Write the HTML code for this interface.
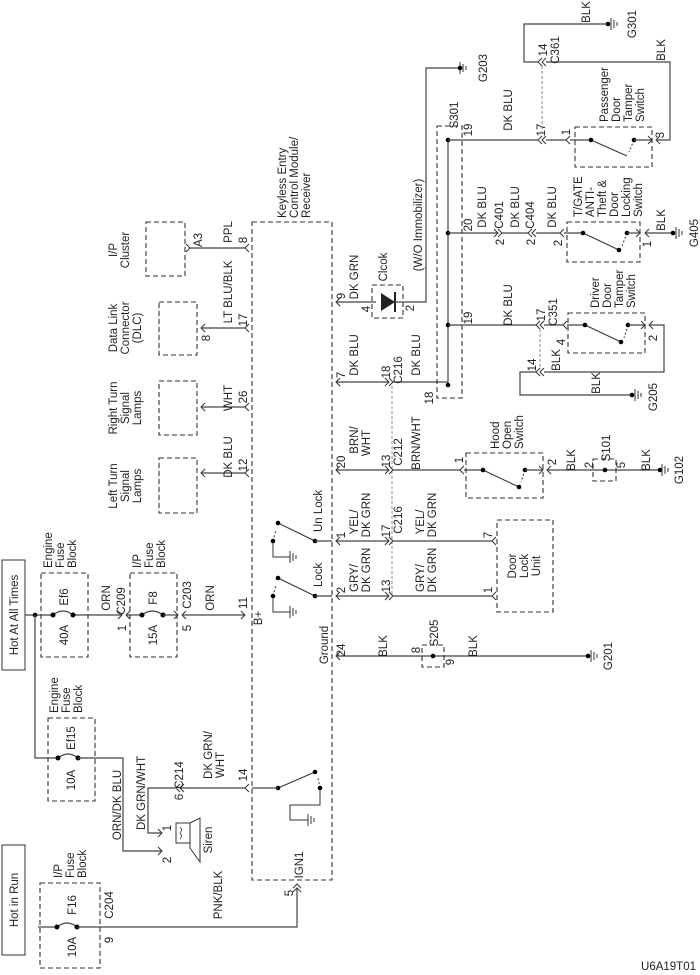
<!DOCTYPE html>
<html><head><meta charset="utf-8"><style>
html,body{margin:0;padding:0;background:#fff;}
svg{display:block;}
text{font-family:"Liberation Sans",sans-serif;font-size:11.5px;fill:#222;}
.w{stroke:#444;stroke-width:1.2;fill:none;}
.d{stroke:#333;stroke-width:1.1;fill:none;stroke-dasharray:5,3;}
.dt{stroke:#888;stroke-width:1;fill:none;stroke-dasharray:3,2;}
.c{stroke:#333;stroke-width:1;fill:none;}
</style></head><body>
<svg width="700" height="975" viewBox="0 0 700 975" xmlns="http://www.w3.org/2000/svg">
<defs>
<g id="gnd"><line x1="0" y1="-6" x2="0" y2="6" class="c"/><line x1="3" y1="-4" x2="3" y2="4" class="c"/><line x1="6" y1="-2" x2="6" y2="2" class="c"/></g>
</defs>
<rect x="2" y="560" width="23" height="110" fill="none" stroke="#333"/>
<text transform="translate(18,615) rotate(-90)" text-anchor="middle" font-size="12">Hot At All Times</text>
<rect x="2" y="845" width="23" height="110" fill="none" stroke="#333"/>
<text transform="translate(18,900) rotate(-90)" text-anchor="middle" font-size="12">Hot in Run</text>

<rect x="41" y="573" width="47" height="84" class="d"/>
<text transform="translate(52,568) rotate(-90)">Engine</text>
<text transform="translate(64,568) rotate(-90)">Fuse</text>
<text transform="translate(76,568) rotate(-90)">Block</text>
<text transform="translate(68,597) rotate(-90)" text-anchor="middle">Ef6</text>
<text transform="translate(68,635) rotate(-90)" text-anchor="middle">40A</text>
<rect x="130" y="573" width="47" height="84" class="d"/>
<text transform="translate(141,568) rotate(-90)">I/P</text>
<text transform="translate(153,568) rotate(-90)">Fuse</text>
<text transform="translate(165,568) rotate(-90)">Block</text>
<text transform="translate(157,598) rotate(-90)" text-anchor="middle">F8</text>
<text transform="translate(157,635) rotate(-90)" text-anchor="middle">15A</text>
<rect x="48" y="718" width="47" height="83" class="d"/>
<text transform="translate(58,713) rotate(-90)">Engine</text>
<text transform="translate(70,713) rotate(-90)">Fuse</text>
<text transform="translate(82,713) rotate(-90)">Block</text>
<text transform="translate(75,738) rotate(-90)" text-anchor="middle">Ef15</text>
<text transform="translate(75,780) rotate(-90)" text-anchor="middle">10A</text>
<rect x="40" y="883" width="60" height="85" class="d"/>
<text transform="translate(62,878) rotate(-90)">I/P</text>
<text transform="translate(74,878) rotate(-90)">Fuse</text>
<text transform="translate(86,878) rotate(-90)">Block</text>
<text transform="translate(76,905) rotate(-90)" text-anchor="middle">F16</text>
<text transform="translate(76,947) rotate(-90)" text-anchor="middle">10A</text>

<polyline class="w" points="25,615 53,615"/>
<path class="w" d="M53,615 q10,-8 20,0"/>
<line class="w" x1="73" y1="615" x2="122" y2="615"/>
<circle cx="35" cy="615" r="2.3"/><circle cx="53" cy="615" r="2.5"/><circle cx="73" cy="615" r="2.5"/>
<polyline class="c" points="118,611 122,615 118,619"/><polyline class="c" points="130,611 126,615 130,619"/>
<line class="w" x1="126" y1="615" x2="142" y2="615"/>
<path class="w" d="M142,615 q10,-8 21,0"/>
<circle cx="142" cy="615" r="2.5"/><circle cx="163" cy="615" r="2.5"/>
<line class="w" x1="163" y1="615" x2="177" y2="615"/>
<polyline class="c" points="174,611 178,615 174,619"/><polyline class="c" points="186,611 182,615 186,619"/>
<line class="w" x1="182" y1="615" x2="245" y2="615"/>
<polyline class="c" points="241,611 245,615 241,619"/>
<text transform="translate(110,598) rotate(-90)" text-anchor="middle">ORN</text>
<text transform="translate(125,601) rotate(-90)" text-anchor="middle">C209</text>
<text transform="translate(126,628) rotate(-90)" text-anchor="middle">1</text>
<text transform="translate(191,595) rotate(-90)" text-anchor="middle">C203</text>
<text transform="translate(191,628) rotate(-90)" text-anchor="middle">5</text>
<text transform="translate(214,598) rotate(-90)" text-anchor="middle">ORN</text>
<text transform="translate(247,603) rotate(-90)" text-anchor="middle">11</text>
<text transform="translate(262,618) rotate(-90)" text-anchor="middle">B+</text>

<polyline class="w" points="35,615 35,758 58,758"/>
<path class="w" d="M58,758 q10,-8 20,0"/>
<circle cx="58" cy="758" r="2.5"/><circle cx="78" cy="758" r="2.5"/>
<polyline class="w" points="78,758 123,758 123,851 162,851"/>
<polyline class="c" points="158,847 162,851 158,855"/>
<text transform="translate(121,805) rotate(-90)" text-anchor="middle">ORN/DK BLU</text>
<text transform="translate(145,830) rotate(-90)">DK GRN/WHT</text>
<text transform="translate(171,860) rotate(-90)" text-anchor="middle">2</text>
<text transform="translate(171,828) rotate(-90)" text-anchor="middle">1</text>
<polyline class="w" points="245,788 180,788"/>
<polyline class="c" points="249,784 245,788 249,792"/>
<polyline class="c" points="184,784 180,788 184,792"/><polyline class="c" points="180,784 176,788 180,792"/>
<polyline class="w" points="176,788 148,788 148,833 162,833"/>
<polyline class="c" points="158,829 162,833 158,837"/>
<rect x="176" y="823" width="14" height="20" fill="none" stroke="#333"/>
<polygon points="190,823 200,818 200,862 190,848" fill="none" stroke="#333"/>
<path d="M180,827 q3,3 0,6 q3,3 0,6" fill="none" stroke="#333" stroke-width="0.8"/>
<text transform="translate(212,840) rotate(-90)" text-anchor="middle">Siren</text>
<text transform="translate(183,775) rotate(-90)" text-anchor="middle">C214</text>
<text transform="translate(183,797) rotate(-90)" text-anchor="middle">6</text>
<text transform="translate(212,755) rotate(-90)" text-anchor="middle">DK GRN/</text>
<text transform="translate(224,765) rotate(-90)" text-anchor="middle">WHT</text>
<text transform="translate(247,775) rotate(-90)" text-anchor="middle">14</text>

<line class="w" x1="38" y1="927" x2="57" y2="927"/>
<path class="w" d="M57,927 q10,-8 20,0"/>
<circle cx="57" cy="927" r="2.5"/><circle cx="77" cy="927" r="2.5"/>
<polyline class="w" points="77,927 297,927 297,888"/>
<polyline class="c" points="293,892 297,888 301,892"/><polyline class="c" points="293,888 297,884 301,888"/>
<text transform="translate(113,905) rotate(-90)" text-anchor="middle">C204</text>
<text transform="translate(113,940) rotate(-90)" text-anchor="middle">9</text>
<text transform="translate(222,895) rotate(-90)" text-anchor="middle">PNK/BLK</text>
<text transform="translate(293,893) rotate(-90)" text-anchor="middle">5</text>
<text transform="translate(303,865) rotate(-90)" text-anchor="middle">IGN1</text>

<rect x="252" y="222" width="80" height="658" class="d"/>
<text transform="translate(286,218) rotate(-90)">Keyless Entry</text>
<text transform="translate(298,218) rotate(-90)">Control Module/</text>
<text transform="translate(310,218) rotate(-90)">Receiver</text>

<rect x="146" y="222" width="39" height="54" class="d"/>
<text transform="translate(117,250) rotate(-90)" text-anchor="middle">I/P</text>
<text transform="translate(129,250) rotate(-90)" text-anchor="middle">Cluster</text>
<polyline class="w" points="190,248 245,248"/>
<polyline class="c" points="186,244 190,248 186,252"/><polyline class="c" points="249,244 245,248 249,252"/>
<text transform="translate(202,240) rotate(-90)" text-anchor="middle">A3</text>
<text transform="translate(232,232) rotate(-90)" text-anchor="middle">PPL</text>
<text transform="translate(247,240) rotate(-90)" text-anchor="middle">8</text>

<rect x="159" y="302" width="38" height="53" class="d"/>
<text transform="translate(117,328) rotate(-90)" text-anchor="middle">Data Link</text>
<text transform="translate(129,328) rotate(-90)" text-anchor="middle">Connector</text>
<text transform="translate(141,328) rotate(-90)" text-anchor="middle">(DLC)</text>
<polyline class="w" points="201,328 245,328"/>
<polyline class="c" points="205,324 201,328 205,332"/><polyline class="c" points="249,324 245,328 249,332"/>
<text transform="translate(210,338) rotate(-90)" text-anchor="middle">8</text>
<text transform="translate(232,292) rotate(-90)" text-anchor="middle">LT BLU/BLK</text>
<text transform="translate(247,320) rotate(-90)" text-anchor="middle">17</text>

<rect x="159" y="381" width="38" height="54" class="d"/>
<text transform="translate(117,408) rotate(-90)" text-anchor="middle">Right Turn</text>
<text transform="translate(129,408) rotate(-90)" text-anchor="middle">Signal</text>
<text transform="translate(141,408) rotate(-90)" text-anchor="middle">Lamps</text>
<polyline class="w" points="201,407 245,407"/>
<polyline class="c" points="205,403 201,407 205,411"/><polyline class="c" points="249,403 245,407 249,411"/>
<text transform="translate(232,398) rotate(-90)" text-anchor="middle">WHT</text>
<text transform="translate(247,397) rotate(-90)" text-anchor="middle">26</text>

<rect x="159" y="458" width="38" height="55" class="d"/>
<text transform="translate(117,486) rotate(-90)" text-anchor="middle">Left Turn</text>
<text transform="translate(129,486) rotate(-90)" text-anchor="middle">Signal</text>
<text transform="translate(141,486) rotate(-90)" text-anchor="middle">Lamps</text>
<polyline class="w" points="201,473 245,473"/>
<polyline class="c" points="205,469 201,473 205,477"/><polyline class="c" points="249,469 245,473 249,477"/>
<text transform="translate(232,457) rotate(-90)" text-anchor="middle">DK BLU</text>
<text transform="translate(247,465) rotate(-90)" text-anchor="middle">12</text>

<g class="c">
<line x1="315" y1="541" x2="278" y2="523"/><line x1="273" y1="541" x2="276" y2="530" stroke-dasharray="2,2"/>
<polyline points="273,541 273,557 290,557"/>
<line x1="315" y1="596" x2="278" y2="578"/><line x1="273" y1="596" x2="276" y2="585" stroke-dasharray="2,2"/>
<polyline points="273,596 273,612 290,612"/>
<line x1="278" y1="788" x2="315" y2="772"/><line x1="320" y1="788" x2="318" y2="778" stroke-dasharray="2,2"/>
<polyline points="320,788 320,805 290,805 290,820 308,820"/>
</g>
<use href="#gnd" x="290" y="557"/><use href="#gnd" x="290" y="612"/><use href="#gnd" x="308" y="820"/>
<circle cx="315" cy="541" r="2.3"/><circle cx="278" cy="523" r="2.3"/><circle cx="273" cy="541" r="2.3"/>
<circle cx="315" cy="596" r="2.3"/><circle cx="278" cy="578" r="2.3"/><circle cx="273" cy="596" r="2.3"/>
<circle cx="278" cy="788" r="2.3"/><circle cx="315" cy="772" r="2.3"/><circle cx="320" cy="788" r="2.3"/>
<line class="w" x1="315" y1="541" x2="332" y2="541"/><line class="w" x1="315" y1="596" x2="332" y2="596"/>
<line class="w" x1="252" y1="788" x2="278" y2="788"/>
<text transform="translate(322,532) rotate(-90)">Un Lock</text>
<text transform="translate(322,587) rotate(-90)">Lock</text>
<text transform="translate(328,645) rotate(-90)" text-anchor="middle">Ground</text>

<polyline class="w" points="336,302 376,302"/><polyline class="c" points="340,298 336,302 340,306"/>
<text transform="translate(345,296) rotate(-90)" text-anchor="middle">9</text>
<text transform="translate(358,277) rotate(-90)" text-anchor="middle">DK GRN</text>
<rect x="372" y="285" width="31" height="33" class="d"/>
<polygon points="381,293 381,311 395,302" fill="#222"/><line x1="395" y1="292" x2="395" y2="312" stroke="#222" stroke-width="2"/>
<text transform="translate(370,309) rotate(-90)" text-anchor="middle">4</text>
<text transform="translate(414,308) rotate(-90)" text-anchor="middle">2</text>
<text transform="translate(387,267) rotate(-90)" text-anchor="middle">Clcok</text>
<polyline class="w" points="395,302 426,302 426,68 458,68"/>
<use href="#gnd" x="460" y="68"/><circle cx="460" cy="68" r="2.3"/>
<text transform="translate(422,225) rotate(-90)" text-anchor="middle">(W/O Immobilizer)</text>
<text transform="translate(487,68) rotate(-90)" text-anchor="middle">G203</text>
<polyline class="w" points="336,382 389,382"/><polyline class="c" points="340,378 336,382 340,386"/>
<polyline class="c" points="385,378 389,382 385,386"/><polyline class="c" points="389,378 393,382 389,386"/>
<polyline class="w" points="393,382 448,382"/>
<text transform="translate(345,375) rotate(-90)" text-anchor="middle">7</text>
<text transform="translate(358,355) rotate(-90)" text-anchor="middle">DK BLU</text>
<text transform="translate(390,372) rotate(-90)" text-anchor="middle">18</text>
<text transform="translate(402,370) rotate(-90)" text-anchor="middle">C216</text>
<text transform="translate(420,355) rotate(-90)" text-anchor="middle">DK BLU</text>
<text transform="translate(433,398) rotate(-90)" text-anchor="middle">18</text>
<line class="dt" x1="392" y1="386" x2="392" y2="596"/>
<polyline class="w" points="336,470 389,470"/><polyline class="c" points="340,466 336,470 340,474"/>
<polyline class="c" points="385,466 389,470 385,474"/><polyline class="c" points="389,466 393,470 389,474"/>
<polyline class="w" points="393,470 460,470"/><polyline class="c" points="464,466 460,470 464,474"/>
<text transform="translate(345,462) rotate(-90)" text-anchor="middle">20</text>
<text transform="translate(358,440) rotate(-90)" text-anchor="middle">BRN/</text>
<text transform="translate(370,443) rotate(-90)" text-anchor="middle">WHT</text>
<text transform="translate(390,461) rotate(-90)" text-anchor="middle">13</text>
<text transform="translate(402,452) rotate(-90)" text-anchor="middle">C212</text>
<text transform="translate(420,443) rotate(-90)" text-anchor="middle">BRN/WHT</text>
<text transform="translate(463,460) rotate(-90)" text-anchor="middle">1</text>
<rect x="466" y="453" width="77" height="45" class="d"/>
<line class="w" x1="464" y1="470" x2="483" y2="470"/>
<line class="c" x1="483" y1="470" x2="519" y2="487"/><line class="c" x1="525" y1="470" x2="521" y2="482" stroke-dasharray="2,2"/>
<circle cx="483" cy="470" r="2.3"/><circle cx="519" cy="487" r="2.3"/><circle cx="525" cy="470" r="2.3"/>
<polyline class="w" points="525,470 543,470"/><polyline class="c" points="539,466 543,470 539,474"/>
<text transform="translate(499,449) rotate(-90)">Hood</text>
<text transform="translate(511,449) rotate(-90)">Open</text>
<text transform="translate(523,449) rotate(-90)">Switch</text>
<text transform="translate(556,462) rotate(-90)" text-anchor="middle">2</text>
<polyline class="w" points="547,470 660,470"/><polyline class="c" points="551,466 547,470 551,474"/>
<text transform="translate(575,460) rotate(-90)" text-anchor="middle">BLK</text>
<rect x="593" y="459" width="23" height="22" class="d"/><circle cx="605" cy="470" r="2.3"/>
<text transform="translate(593,465) rotate(-90)" text-anchor="middle">2</text>
<text transform="translate(625,465) rotate(-90)" text-anchor="middle">5</text>
<text transform="translate(610,448) rotate(-90)" text-anchor="middle">S101</text>
<text transform="translate(650,460) rotate(-90)" text-anchor="middle">BLK</text>
<circle cx="660" cy="470" r="2.3"/><use href="#gnd" x="662" y="470"/>
<text transform="translate(683,470) rotate(-90)" text-anchor="middle">G102</text>
<polyline class="w" points="336,541 389,541"/><polyline class="c" points="340,537 336,541 340,545"/>
<polyline class="c" points="385,537 389,541 385,545"/><polyline class="c" points="389,537 393,541 389,545"/>
<polyline class="w" points="393,541 492,541"/><polyline class="c" points="496,537 492,541 496,545"/>
<polyline class="w" points="336,596 389,596"/><polyline class="c" points="340,592 336,596 340,600"/>
<polyline class="c" points="385,592 389,596 385,600"/><polyline class="c" points="389,592 393,596 389,600"/>
<polyline class="w" points="393,596 492,596"/><polyline class="c" points="496,592 492,596 496,600"/>
<text transform="translate(345,535) rotate(-90)" text-anchor="middle">1</text>
<text transform="translate(345,590) rotate(-90)" text-anchor="middle">2</text>
<text transform="translate(358,522) rotate(-90)" text-anchor="middle">YEL/</text>
<text transform="translate(370,515) rotate(-90)" text-anchor="middle">DK GRN</text>
<text transform="translate(358,578) rotate(-90)" text-anchor="middle">GRY/</text>
<text transform="translate(370,570) rotate(-90)" text-anchor="middle">DK GRN</text>
<text transform="translate(390,531) rotate(-90)" text-anchor="middle">17</text>
<text transform="translate(402,520) rotate(-90)" text-anchor="middle">C216</text>
<text transform="translate(390,586) rotate(-90)" text-anchor="middle">13</text>
<text transform="translate(424,522) rotate(-90)" text-anchor="middle">YEL/</text>
<text transform="translate(436,515) rotate(-90)" text-anchor="middle">DK GRN</text>
<text transform="translate(424,578) rotate(-90)" text-anchor="middle">GRY/</text>
<text transform="translate(436,570) rotate(-90)" text-anchor="middle">DK GRN</text>
<text transform="translate(492,535) rotate(-90)" text-anchor="middle">7</text>
<text transform="translate(492,590) rotate(-90)" text-anchor="middle">1</text>
<rect x="497" y="520" width="56" height="92" class="d"/>
<text transform="translate(516,566) rotate(-90)" text-anchor="middle">Door</text>
<text transform="translate(528,566) rotate(-90)" text-anchor="middle">Lock</text>
<text transform="translate(540,566) rotate(-90)" text-anchor="middle">Unit</text>
<polyline class="w" points="336,656 588,656"/><polyline class="c" points="340,652 336,656 340,660"/>
<text transform="translate(345,650) rotate(-90)" text-anchor="middle">24</text>
<text transform="translate(387,646) rotate(-90)" text-anchor="middle">BLK</text>
<rect x="422" y="645" width="22" height="22" class="d"/><circle cx="433" cy="656" r="2.3"/>
<text transform="translate(420,650) rotate(-90)" text-anchor="middle">8</text>
<text transform="translate(454,662) rotate(-90)" text-anchor="middle">9</text>
<text transform="translate(438,633) rotate(-90)" text-anchor="middle">S205</text>
<text transform="translate(477,646) rotate(-90)" text-anchor="middle">BLK</text>
<circle cx="588" cy="656" r="2.3"/><use href="#gnd" x="591" y="656"/>
<text transform="translate(612,656) rotate(-90)" text-anchor="middle">G201</text>

<rect x="437" y="126" width="25" height="272" class="d"/>
<text transform="translate(458,115) rotate(-90)" text-anchor="middle">S301</text>
<line class="w" x1="448" y1="140" x2="448" y2="385"/>
<circle cx="448" cy="140" r="2.3"/><circle cx="448" cy="233" r="2.3"/><circle cx="448" cy="325" r="2.3"/><circle cx="448" cy="385" r="2.3"/>
<polyline class="w" points="448,140 538,140"/>
<polyline class="c" points="542,136 538,140 542,144"/><polyline class="c" points="546,136 542,140 546,144"/>
<polyline class="w" points="546,140 566,140"/><polyline class="c" points="570,136 566,140 570,144"/>
<text transform="translate(472,130) rotate(-90)" text-anchor="middle">19</text>
<text transform="translate(512,110) rotate(-90)" text-anchor="middle">DK BLU</text>
<text transform="translate(545,130) rotate(-90)" text-anchor="middle">17</text>
<text transform="translate(570,132) rotate(-90)" text-anchor="middle">1</text>
<rect x="575" y="127" width="77" height="40" class="d"/>
<line class="w" x1="570" y1="140" x2="591" y2="140"/>
<line class="c" x1="591" y1="140" x2="627" y2="156"/><line class="c" x1="634" y1="140" x2="629" y2="152" stroke-dasharray="2,2"/>
<circle cx="591" cy="140" r="2.3"/><circle cx="634" cy="140" r="2.3"/>
<polyline class="w" points="634,140 652,140"/><polyline class="c" points="648,136 652,140 648,144"/>
<text transform="translate(608,122) rotate(-90)">Passenger</text>
<text transform="translate(620,122) rotate(-90)">Door</text>
<text transform="translate(632,122) rotate(-90)">Tamper</text>
<text transform="translate(644,122) rotate(-90)">Switch</text>
<text transform="translate(664,135) rotate(-90)" text-anchor="middle">3</text>
<polyline class="c" points="660,136 656,140 660,144"/>
<polyline class="w" points="656,140 670,140 670,62 546,62"/>
<polyline class="c" points="542,58 538,62 542,66"/><polyline class="c" points="546,58 542,62 546,66"/>
<polyline class="w" points="538,62 524,62 524,24 606,24"/>
<line class="dt" x1="542" y1="66" x2="542" y2="136"/>
<text transform="translate(547,50) rotate(-90)" text-anchor="middle">14</text>
<text transform="translate(559,50) rotate(-90)" text-anchor="middle">C361</text>
<text transform="translate(665,50) rotate(-90)" text-anchor="middle">BLK</text>
<text transform="translate(590,12) rotate(-90)" text-anchor="middle">BLK</text>
<circle cx="608" cy="24" r="2.3"/><use href="#gnd" x="611" y="24"/>
<text transform="translate(636,24) rotate(-90)" text-anchor="middle">G301</text>
<polyline class="w" points="448,233 498,233"/>
<polyline class="c" points="494,229 498,233 494,237"/><polyline class="c" points="498,229 502,233 498,237"/>
<polyline class="w" points="502,233 528,233"/>
<polyline class="c" points="532,229 528,233 532,237"/><polyline class="c" points="536,229 532,233 536,237"/>
<polyline class="w" points="536,233 560,233"/><polyline class="c" points="564,229 560,233 564,237"/>
<text transform="translate(472,225) rotate(-90)" text-anchor="middle">20</text>
<text transform="translate(486,207) rotate(-90)" text-anchor="middle">DK BLU</text>
<text transform="translate(504,242) rotate(-90)" text-anchor="middle">2</text>
<text transform="translate(503,215) rotate(-90)" text-anchor="middle">C401</text>
<text transform="translate(519,207) rotate(-90)" text-anchor="middle">DK BLU</text>
<text transform="translate(535,242) rotate(-90)" text-anchor="middle">2</text>
<text transform="translate(534,215) rotate(-90)" text-anchor="middle">C404</text>
<text transform="translate(556,207) rotate(-90)" text-anchor="middle">DK BLU</text>
<text transform="translate(562,243) rotate(-90)" text-anchor="middle">2</text>
<rect x="567" y="222" width="73" height="40" class="d"/>
<line class="w" x1="564" y1="233" x2="583" y2="233"/>
<line class="c" x1="583" y1="233" x2="619" y2="250"/><line class="c" x1="627" y1="233" x2="622" y2="246" stroke-dasharray="2,2"/>
<circle cx="583" cy="233" r="2.3"/><circle cx="619" cy="250" r="2.3"/><circle cx="627" cy="233" r="2.3"/>
<polyline class="w" points="627,233 640,233"/><polyline class="c" points="636,229 640,233 636,237"/>
<text transform="translate(582,217) rotate(-90)">T/GATE</text>
<text transform="translate(594,217) rotate(-90)">ANTI-</text>
<text transform="translate(606,217) rotate(-90)">Theft &amp;</text>
<text transform="translate(618,217) rotate(-90)">Door</text>
<text transform="translate(630,217) rotate(-90)">Locking</text>
<text transform="translate(642,217) rotate(-90)">Switch</text>
<polyline class="c" points="649,229 645,233 649,237"/>
<polyline class="w" points="645,233 673,233"/>
<text transform="translate(651,244) rotate(-90)" text-anchor="middle">1</text>
<text transform="translate(665,220) rotate(-90)" text-anchor="middle">BLK</text>
<circle cx="673" cy="233" r="2.3"/><use href="#gnd" x="676" y="233"/>
<text transform="translate(698,233) rotate(-90)" text-anchor="middle">G405</text>
<polyline class="w" points="448,325 536,325"/>
<polyline class="c" points="540,321 536,325 540,329"/><polyline class="c" points="544,321 540,325 544,329"/>
<polyline class="w" points="544,325 563,325"/><polyline class="c" points="567,321 563,325 567,329"/>
<text transform="translate(472,318) rotate(-90)" text-anchor="middle">19</text>
<text transform="translate(512,305) rotate(-90)" text-anchor="middle">DK BLU</text>
<text transform="translate(545,315) rotate(-90)" text-anchor="middle">17</text>
<text transform="translate(557,312) rotate(-90)" text-anchor="middle">C351</text>
<text transform="translate(565,342) rotate(-90)" text-anchor="middle">4</text>
<rect x="568" y="313" width="77" height="40" class="d"/>
<line class="w" x1="567" y1="325" x2="585" y2="325"/>
<line class="c" x1="585" y1="325" x2="621" y2="342"/><line class="c" x1="628" y1="325" x2="624" y2="338" stroke-dasharray="2,2"/>
<circle cx="585" cy="325" r="2.3"/><circle cx="621" cy="342" r="2.3"/><circle cx="628" cy="325" r="2.3"/>
<polyline class="w" points="628,325 645,325"/><polyline class="c" points="641,321 645,325 641,329"/>
<text transform="translate(599,308) rotate(-90)">Driver</text>
<text transform="translate(611,308) rotate(-90)">Door</text>
<text transform="translate(623,308) rotate(-90)">Tamper</text>
<text transform="translate(635,308) rotate(-90)">Switch</text>
<polyline class="c" points="653,321 649,325 653,329"/>
<text transform="translate(657,338) rotate(-90)" text-anchor="middle">2</text>
<polyline class="w" points="649,325 664,325 664,372 544,372"/>
<polyline class="c" points="540,368 536,372 540,376"/><polyline class="c" points="544,368 540,372 544,376"/>
<polyline class="w" points="536,372 520,372 520,395 630,395"/>
<line class="dt" x1="540" y1="329" x2="540" y2="368"/>
<text transform="translate(536,365) rotate(-90)" text-anchor="middle">14</text>
<text transform="translate(560,360) rotate(-90)" text-anchor="middle">BLK</text>
<text transform="translate(600,383) rotate(-90)" text-anchor="middle">BLK</text>
<circle cx="632" cy="395" r="2.3"/><use href="#gnd" x="635" y="395"/>
<text transform="translate(657,397) rotate(-90)" text-anchor="middle">G205</text>

<text x="696" y="970" text-anchor="end" font-size="10">U6A19T01</text>
</svg>
</body></html>
